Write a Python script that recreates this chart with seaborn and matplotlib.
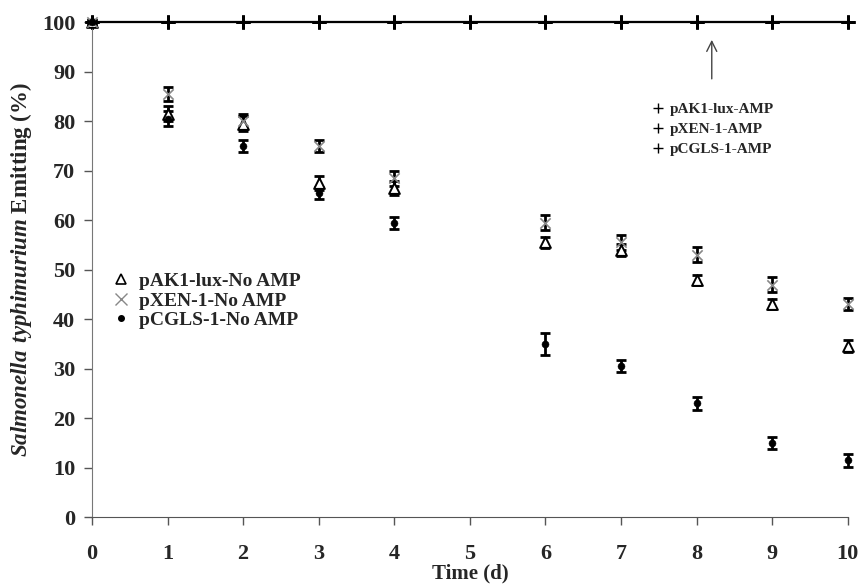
import numpy as np
import pandas as pd
import seaborn as sns
import matplotlib.pyplot as plt
from matplotlib.lines import Line2D

days = [0, 1, 2, 3, 4, 6, 7, 8, 9, 10]
pak1 = [100, 81.5, 79.5, 67.5, 66.5, 55.5, 54, 48, 43, 34.5]
pak1_err = [0.5, 1.5, 1.5, 1.5, 1.5, 1.2, 1.2, 1.0, 1.0, 1.2]
pxen = [100, 85.5, 80, 75, 68.5, 59.5, 55.5, 53, 47, 43]
pxen_err = [0.5, 1.5, 1.5, 1.3, 1.5, 1.5, 1.5, 1.5, 1.5, 1.2]
pcgls = [100, 80.5, 75, 65.5, 59.5, 35, 30.5, 23, 15, 11.5]
pcgls_err = [0.5, 1.5, 1.2, 1.2, 1.2, 2.2, 1.2, 1.3, 1.2, 1.3]

amp_days = [0, 1, 2, 3, 4, 5, 6, 7, 8, 9, 10]
amp_vals = [100] * 11

sns.set_style('white')
plt.rcParams['font.family'] = ['Liberation Serif', 'DejaVu Serif']
plt.rcParams['font.weight'] = 'bold'
plt.rcParams['mathtext.fontset'] = 'custom'
plt.rcParams['mathtext.rm'] = 'Liberation Serif:bold'
plt.rcParams['mathtext.bfit'] = 'Liberation Serif:italic:bold'

fig = plt.figure(figsize=(8.59, 5.85), dpi=100)
ax = fig.add_axes([0.107, 0.116, 0.880, 0.846])

df = pd.DataFrame({'day': days * 3,
                   'val': pak1 + pxen + pcgls,
                   'err': pak1_err + pxen_err + pcgls_err,
                   'strain': ['pAK1'] * 10 + ['pXEN'] * 10 + ['pCGLS'] * 10})

# AMP series, all sit on 100
for name in ['pAK1-lux-AMP', 'pXEN-1-AMP', 'pCGLS-1-AMP']:
    sns.lineplot(x=amp_days, y=amp_vals, ax=ax, color='black', lw=1.5,
                 marker='+', markersize=10, mew=2, mec='black', clip_on=False)

for s in ['pAK1', 'pXEN', 'pCGLS']:
    d = df[df.strain == s]
    ax.errorbar(d.day, d.val, yerr=d.err, fmt='none', ecolor='black',
                elinewidth=2, capsize=3.5, capthick=2, clip_on=False)

d = df[df.strain == 'pAK1']
sns.scatterplot(x=d.day, y=d.val, ax=ax, marker='^', s=60, facecolor='white',
                edgecolor='black', linewidth=1.4, clip_on=False, zorder=4)
d = df[df.strain == 'pXEN']
sns.scatterplot(x=d.day, y=d.val, ax=ax, marker='x', s=55, color='#888888',
                linewidth=1.2, clip_on=False, zorder=5)
d = df[df.strain == 'pCGLS']
sns.scatterplot(x=d.day, y=d.val, ax=ax, marker='o', s=25, color='black',
                edgecolor='black', clip_on=False, zorder=6)

ax.set_xlim(0, 10)
ax.set_ylim(0, 100)
ax.set_xticks(range(0, 11))
ax.set_yticks(range(0, 101, 10))
ax.tick_params(axis='both', bottom=True, left=True, direction='out', length=6,
               width=1, color='#555555', labelsize=16, pad=13)
ax.tick_params(axis='y', pad=6)
for lab in ax.get_xticklabels() + ax.get_yticklabels():
    lab.set_fontweight('bold')
sns.despine(ax=ax)
ax.spines['left'].set_color('#777777')
ax.spines['bottom'].set_color('#555555')

ax.set_xlabel('Time (d)', fontsize=15, fontweight='bold', labelpad=0)
ax.set_ylabel(r'$\mathbfit{Salmonella\ typhimurium}$ Emitting (%)',
              fontsize=16.5, fontweight='bold', labelpad=6)

h1 = [Line2D([], [], marker='^', ls='none', mfc='white', mec='black', ms=7, mew=1.2),
      Line2D([], [], marker='x', ls='none', color='#888888', ms=8, mew=1),
      Line2D([], [], marker='o', ls='none', color='black', ms=4)]
leg1 = ax.legend(h1, ['pAK1-lux-No AMP', 'pXEN-1-No AMP', 'pCGLS-1-No AMP'],
                 loc='upper left', bbox_to_anchor=(0.0, 0.53), frameon=False,
                 prop={'family': 'Liberation Serif', 'weight': 'bold', 'size': 14},
                 handletextpad=0.3, labelspacing=0.1, handlelength=1.2)
ax.add_artist(leg1)

h2 = [Line2D([], [], marker='+', ls='none', color='black', ms=7, mew=1)] * 3
ax.legend(h2, ['pAK1-lux-AMP', 'pXEN-1-AMP', 'pCGLS-1-AMP'],
          loc='upper left', bbox_to_anchor=(0.72, 0.865), frameon=False,
          prop={'family': 'Liberation Serif', 'weight': 'bold', 'size': 11},
          handletextpad=0.3, labelspacing=0.4, handlelength=1.0)

ax.annotate('', xy=(8.2, 97), xytext=(8.2, 88),
            arrowprops=dict(arrowstyle='->', color='#444444', lw=1,
                            mutation_scale=18))

fig.savefig('out.png', dpi=100)
